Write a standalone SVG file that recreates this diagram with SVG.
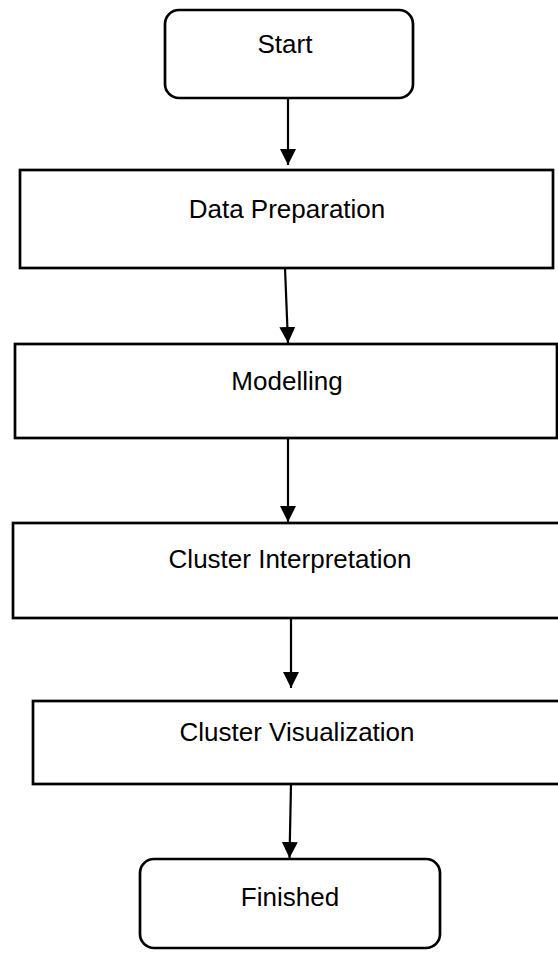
<svg xmlns="http://www.w3.org/2000/svg" width="558" height="954" viewBox="0 0 558 954">
<defs>
<style>
.box{fill:#fff;stroke:#000;stroke-width:2.7}
.lbl{font-family:"Liberation Sans",Arial,sans-serif;font-size:26px;fill:#000;text-anchor:middle}
.con{stroke:#000;stroke-width:2.2;fill:none}
</style>
<marker id="ah" markerWidth="16" markerHeight="16" refX="16" refY="8" orient="auto" markerUnits="userSpaceOnUse" viewBox="0 0 16 16">
<path d="M0,0 L16,8 L0,16 Z" fill="#000"/>
</marker>
</defs>
<rect width="558" height="954" fill="#fff"/>
<g id="start">
<rect class="box" x="165" y="10" width="248" height="88" rx="14"/>
<text class="lbl" x="285" y="53">Start</text>
</g>
<g id="data-preparation">
<rect class="box" x="20" y="170" width="533" height="98"/>
<text class="lbl" x="287" y="218">Data Preparation</text>
</g>
<g id="modelling">
<rect class="box" x="15" y="344" width="542" height="94"/>
<text class="lbl" x="287" y="390">Modelling</text>
</g>
<g id="cluster-interpretation">
<rect class="box" x="13" y="523" width="560" height="95"/>
<text class="lbl" x="290" y="568">Cluster Interpretation</text>
</g>
<g id="cluster-visualization">
<rect class="box" x="33" y="701" width="540" height="83"/>
<text class="lbl" x="297" y="741">Cluster Visualization</text>
</g>
<g id="finished">
<rect class="box" x="140" y="859" width="300" height="89" rx="14"/>
<text class="lbl" x="290" y="906">Finished</text>
</g>
<g id="connectors">
<line class="con" x1="288" y1="98" x2="288" y2="165" marker-end="url(#ah)"/>
<line class="con" x1="285" y1="268" x2="288" y2="343" marker-end="url(#ah)"/>
<line class="con" x1="288" y1="438" x2="288" y2="522" marker-end="url(#ah)"/>
<line class="con" x1="291" y1="618" x2="291" y2="688" marker-end="url(#ah)"/>
<line class="con" x1="291" y1="784" x2="289.5" y2="858" marker-end="url(#ah)"/>
</g>
</svg>
